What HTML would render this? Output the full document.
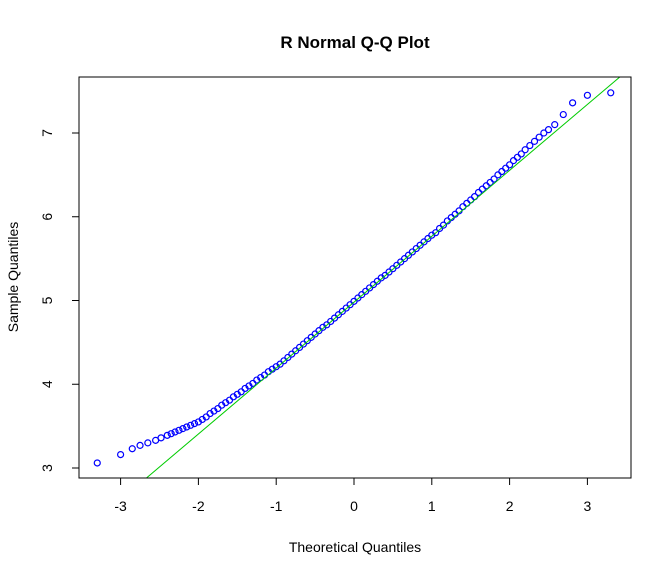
<!DOCTYPE html>
<html><head><meta charset="utf-8"><style>
html,body{margin:0;padding:0;background:#fff;}
svg{display:block;font-family:"Liberation Sans",Arial,sans-serif;}
</style></head><body>
<svg id="chart" width="672" height="576" viewBox="0 0 672 576">
<rect x="0" y="0" width="672" height="576" fill="#fff"/>
<text x="355" y="48" text-anchor="middle" font-size="17" font-weight="bold">R Normal Q-Q Plot</text>
<text x="355" y="552" text-anchor="middle" font-size="14">Theoretical Quantiles</text>
<text x="18" y="277" text-anchor="middle" font-size="14" transform="rotate(-90 18 277)">Sample Quantiles</text>
<g id="xaxis"></g>
<g id="yaxis"></g>
<defs><clipPath id="clip"><rect x="79" y="77" width="552" height="401"/></clipPath></defs>
<g id="plot" clip-path="url(#clip)"></g>
<rect x="79" y="77" width="552" height="401" fill="none" stroke="#000" stroke-width="1"/>
</svg>
<script>
const xTicks = [-3,-2,-1,0,1,2,3];
const yTicks = [3,4,5,6,7];
const theoretical = [-3.3,-3.0,-2.85,-2.75,-2.65,-2.55,-2.48,-2.4,-2.35,-2.3,-2.25,-2.2,-2.15,-2.1,-2.05,
-2.0,-1.95,-1.9,-1.85,-1.8,-1.75,-1.7,-1.65,-1.6,-1.55,-1.5,-1.45,-1.4,-1.35,-1.3,-1.25,-1.2,-1.15,-1.1,-1.05,
-1.0,-0.95,-0.9,-0.85,-0.8,-0.75,-0.7,-0.65,-0.6,-0.55,-0.5,-0.45,-0.4,-0.35,-0.3,-0.25,-0.2,-0.15,-0.1,-0.05,
0,0.05,0.1,0.15,0.2,0.25,0.3,0.35,0.4,0.45,0.5,0.55,0.6,0.65,0.7,0.75,0.8,0.85,0.9,0.95,
1.0,1.05,1.1,1.15,1.2,1.25,1.3,1.35,1.4,1.45,1.5,1.55,1.6,1.65,1.7,1.75,1.8,1.85,1.9,1.95,
2.0,2.05,2.1,2.15,2.2,2.26,2.32,2.38,2.44,2.5,2.58,2.69,2.81,3.0,3.3];
const sample = [3.06,3.16,3.23,3.27,3.30,3.33,3.36,3.39,3.41,3.43,3.45,3.47,3.49,3.51,3.53,
3.55,3.58,3.61,3.65,3.68,3.71,3.75,3.78,3.81,3.85,3.88,3.91,3.95,3.98,4.01,4.05,4.08,4.11,4.15,4.18,
4.21,4.24,4.28,4.32,4.36,4.40,4.44,4.48,4.52,4.56,4.60,4.64,4.68,4.71,4.75,4.79,4.83,4.87,4.91,4.95,
4.99,5.03,5.07,5.11,5.15,5.19,5.23,5.27,5.30,5.34,5.38,5.42,5.46,5.50,5.54,5.58,5.62,5.66,5.70,5.74,
5.78,5.81,5.86,5.90,5.95,5.99,6.03,6.07,6.12,6.16,6.20,6.24,6.29,6.33,6.37,6.41,6.45,6.50,6.54,6.58,
6.62,6.67,6.71,6.75,6.80,6.85,6.90,6.95,7.00,7.04,7.10,7.22,7.36,7.45,7.48];
const lineIntercept = 4.98;
const lineSlope = 0.787;

const NS = "http://www.w3.org/2000/svg";
const sx = v => 354 + (v) * 77.8;
const sy = v => 468 - (v - 3) * 83.75;
function mk(tag, attrs, parent){const e=document.createElementNS(NS,tag);for(const k in attrs)e.setAttribute(k,attrs[k]);parent.appendChild(e);return e;}

const xa = document.getElementById('xaxis');
mk('line',{x1:sx(xTicks[0]),x2:sx(xTicks[xTicks.length-1]),y1:478,y2:478,stroke:'#000'},xa);
xTicks.forEach(t=>{
  const l=mk('line',{x1:sx(t),x2:sx(t),y1:478,y2:485,stroke:'#000'},xa);
  
  
  const tx=mk('text',{x:sx(t),y:511,'text-anchor':'middle','font-size':'14'},xa);
  tx.textContent=String(t);
  
  
});
const ya = document.getElementById('yaxis');
mk('line',{x1:79,x2:79,y1:sy(yTicks[0]),y2:sy(yTicks[yTicks.length-1]),stroke:'#000'},ya);
yTicks.forEach(t=>{
  const l=mk('line',{x1:72,x2:79,y1:sy(t),y2:sy(t),stroke:'#000'},ya);
  
  
  const tx=mk('text',{x:52,y:sy(t),'text-anchor':'middle','font-size':'14',transform:`rotate(-90 52 ${sy(t)})`},ya);
  tx.textContent=String(t);
  
  
});
const plot = document.getElementById('plot');
theoretical.forEach((x,i)=>{
  const c=mk('circle',{cx:sx(x),cy:sy(sample[i]),r:3,fill:'none',stroke:'#0000ff','stroke-width':1.2},plot);
  
  
});
const ref=mk('line',{x1:sx(-4),y1:sy(lineIntercept-4*lineSlope),x2:sx(4),y2:sy(lineIntercept+4*lineSlope),stroke:'#00cc00','stroke-width':1},plot);


</script>
</body></html>
